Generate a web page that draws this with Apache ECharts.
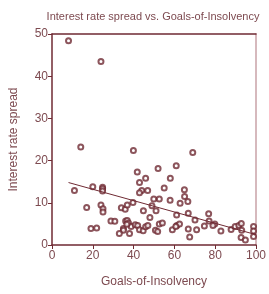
<!DOCTYPE html>
<html>
<head>
    <meta charset="utf-8">
    <title>Interest rate spread vs. Goals-of-Insolvency</title>
    <script src="https://cdn.jsdelivr.net/npm/echarts@6/dist/echarts.min.js"></script>
    <style>
        html, body { margin: 0; padding: 0; background: #fff; }
        #chart1 { width: 269px; height: 294px; }
    </style>
</head>
<body>
<div id="chart1"></div>
<script type="text/javascript">
    // 数据：Goals-of-Insolvency (x) 与 Interest rate spread (y)
    var goalsX = [8.1, 24.0, 14.1, 39.9, 41.8, 45.9, 42.9, 69.0, 52.0, 60.9,
        58.0, 44.0, 42.9, 46.9, 11.0, 20.0, 24.8, 24.8, 24.8, 17.0,
        24.0, 25.0, 25.0, 39.7, 34.0, 35.9, 36.9, 44.8, 49.9, 52.6,
        49.0, 51.0, 48.0, 28.9, 30.8, 36.1, 36.9, 37.5, 38.8, 40.8,
        42.0, 42.9, 44.7, 45.9, 47.0, 35.0, 35.0, 33.0, 38.0, 19.1,
        21.9, 50.7, 51.8, 52.6, 55.0, 64.9, 65.0, 57.9, 62.8, 66.6,
        61.1, 66.8, 54.1, 59.0, 61.2, 62.5, 66.8, 67.5, 70.1, 76.8,
        77.0, 79.8, 78.9, 74.7, 70.9, 82.8, 87.8, 89.8, 91.6, 92.8,
        93.0, 92.7, 94.8, 98.8, 98.8, 98.8, 60.7, 36.7];
    var spreadY = [48.4, 43.5, 23.2, 22.4, 17.3, 15.8, 14.8, 21.9, 18.1, 18.8,
        15.8, 12.9, 12.4, 12.9, 12.9, 13.8, 13.7, 13.3, 12.8, 8.9,
        9.5, 8.6, 7.8, 10.1, 8.8, 8.5, 9.5, 8.1, 10.9, 10.9,
        9.3, 8.1, 6.5, 5.7, 5.6, 5.7, 5.8, 5.2, 4.4, 4.8,
        4.6, 3.6, 3.4, 4.3, 4.6, 3.9, 3.5, 2.7, 2.7, 3.9,
        4.0, 3.5, 3.2, 5.0, 13.5, 13.1, 11.5, 10.6, 9.9, 10.3,
        7.1, 7.5, 5.2, 3.6, 4.6, 5.0, 3.8, 1.9, 5.9, 7.4,
        5.7, 5.0, 4.6, 4.5, 3.6, 3.3, 3.7, 4.4, 4.6, 5.1,
        3.5, 1.8, 1.2, 4.4, 3.3, 2.0, 4.4, 4.9];
    // 趋势线两端
    var fitX = [8.1, 100];
    var fitY = [14.8, 2.45];
    var xTicks = [0, 20, 40, 60, 80, 100];
    var yTicks = [0, 10, 20, 30, 40, 50];

    var dark = '#6f2a33';
    var textColor = '#7d4a50';
    var points = goalsX.map(function (x, i) { return [x, spreadY[i]]; });
    var fitLine = fitX.map(function (x, i) { return [x, fitY[i]]; });

    var myChart1 = echarts.init(document.getElementById('chart1'));
    myChart1.setOption({
        animation: false,
        textStyle: { fontFamily: 'Liberation Sans, Arial, sans-serif' },
        title: {
            text: 'Interest rate spread vs. Goals-of-Insolvency',
            left: 148, top: 6, textAlign: 'center',
            textStyle: { fontSize: 11, fontWeight: 'normal', color: textColor }
        },
        grid: { left: 49, right: 11, top: 34, bottom: 49 },
        xAxis: [{
            type: 'value', min: xTicks[0], max: xTicks[xTicks.length - 1], interval: 20,
            name: 'Goals-of-Insolvency', nameLocation: 'middle', nameGap: 31,
            nameTextStyle: { fontSize: 12, color: textColor },
            axisLine: { show: true, lineStyle: { color: dark, width: 1.5 } },
            axisTick: { show: true, length: 4, lineStyle: { color: dark } },
            axisLabel: { fontSize: 12, color: textColor, margin: 5 },
            splitLine: { show: false }
        }, {
            type: 'value', position: 'top', min: 0, max: 100,
            axisLine: { show: true, onZero: false, lineStyle: { color: dark, width: 1.5 } },
            axisTick: { show: false }, axisLabel: { show: false }, splitLine: { show: false }
        }],
        yAxis: [{
            type: 'value', min: yTicks[0], max: yTicks[yTicks.length - 1], interval: 10,
            name: 'Interest rate spread', nameLocation: 'middle', nameGap: 32,
            nameTextStyle: { fontSize: 12, color: textColor },
            axisLine: { show: true, lineStyle: { color: dark, width: 1.5 } },
            axisTick: { show: true, length: 4, lineStyle: { color: dark } },
            axisLabel: { fontSize: 12, color: textColor, margin: 4 },
            splitLine: { show: false }
        }, {
            type: 'value', position: 'right', min: 0, max: 50,
            axisLine: { show: true, onZero: false, lineStyle: { color: '#c9a2a7', width: 1.5 } },
            axisTick: { show: false }, axisLabel: { show: false }, splitLine: { show: false }
        }],
        series: [{
            name: 'points',
            type: 'scatter',
            symbol: 'emptyCircle',
            symbolSize: 5,
            itemStyle: { color: dark, borderColor: dark, borderWidth: 1.5 },
            data: points
        }, {
            name: 'fit',
            type: 'line',
            showSymbol: false,
            lineStyle: { color: dark, width: 1 },
            data: fitLine
        }]
    });
</script>
</body>
</html>
